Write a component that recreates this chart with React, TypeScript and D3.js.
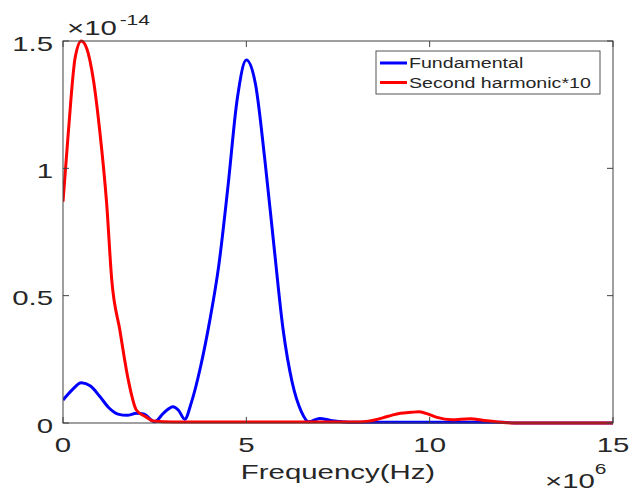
import React from "react";
import * as d3 from "d3";

// Frequency in units of 1e6 Hz, amplitude in units of 1e-14
const fundamentalFreq = [0, 0.25, 0.5, 0.75, 1.0, 1.25, 1.5, 1.75, 2.0, 2.2, 2.5, 2.75, 3.0, 3.15, 3.32, 3.5, 3.75, 4.0, 4.25, 4.5, 4.75, 5.0, 5.25, 5.5, 5.75, 6.0, 6.25, 6.5, 6.7, 7.0, 7.3, 7.6, 8.0, 10.0, 12.0, 12.3, 15.0];
const fundamentalAmp = [0.09, 0.13, 0.158, 0.145, 0.105, 0.06, 0.035, 0.03, 0.038, 0.035, 0.005, 0.04, 0.064, 0.05, 0.015, 0.08, 0.22, 0.4, 0.62, 0.93, 1.27, 1.425, 1.33, 1.04, 0.7, 0.37, 0.16, 0.045, 0.005, 0.018, 0.01, 0.005, 0.003, 0.003, 0.003, 0.0, 0.0];

const secondFreq = [0, 0.15, 0.33, 0.5, 0.65, 0.83, 1.0, 1.19, 1.33, 1.55, 1.78, 2.0, 2.25, 2.46, 3.0, 8.0, 8.2, 8.5, 8.72, 9.0, 9.2, 9.5, 9.7, 9.9, 10.2, 10.6, 11.1, 11.5, 12.0, 12.3, 15.0];
const secondAmp = [0.869, 1.15, 1.433, 1.5, 1.47, 1.347, 1.15, 0.863, 0.561, 0.365, 0.169, 0.051, 0.025, 0.008, 0.004, 0.004, 0.005, 0.012, 0.02, 0.032, 0.038, 0.042, 0.044, 0.038, 0.022, 0.013, 0.017, 0.01, 0.002, 0.0, 0.0];

const xTicks = [0, 5, 10, 15];
const yTicks = [0, 0.5, 1, 1.5];
const yTickLabels = ["0", "0.5", "1", "1.5"];
const seriesNames = ["Fundamental", "Second harmonic*10"];
const seriesColors = ["#0000ff", "#ff0000"];

const W = 632, H = 497;
const L = 63, R = 613, T = 41, B = 423;
const SX = 1.4;
const FONT = "'Liberation Sans', Arial, sans-serif";
const AX = "#404040";
const TXT = "#262626";

export default function App() {
  const x = d3.scaleLinear().domain([0, 15]).range([L, R]);
  const y = d3.scaleLinear().domain([0, 1.5]).range([B, T]);
  const line = d3
    .line<[number, number]>()
    .x((d) => x(d[0]))
    .y((d) => y(d[1]))
    .curve(d3.curveMonotoneX);

  const fund: [number, number][] = fundamentalFreq.map((f, i) => [f, fundamentalAmp[i]]);
  const sec: [number, number][] = secondFreq.map((f, i) => [f, secondAmp[i]]);

  const tickLen = 6;

  return (
    <svg width={W} height={H} style={{ position: "absolute", left: 0, top: 0, background: "#fff" }} fontFamily={FONT}>
      <defs>
        <clipPath id="plotclip">
          <rect x={L} y={T - 2} width={R - L} height={B - T + 4} />
        </clipPath>
      </defs>
      <rect x={0} y={0} width={W} height={H} fill="#fff" />

      <g clipPath="url(#plotclip)">
        <path d={line(fund) || ""} fill="none" stroke={seriesColors[0]} strokeWidth={3} strokeLinejoin="round" />
        <path d={line(sec) || ""} fill="none" stroke={seriesColors[1]} strokeWidth={3} strokeLinejoin="round" />
      </g>

      {/* box */}
      <rect x={L} y={T} width={R - L} height={B - T} fill="none" stroke={AX} strokeWidth={1} />

      {/* ticks */}
      {xTicks.map((t) => (
        <g key={"xt" + t}>
          <line x1={x(t)} x2={x(t)} y1={B} y2={B - tickLen} stroke={AX} />
          <line x1={x(t)} x2={x(t)} y1={T} y2={T + tickLen} stroke={AX} />
          <text
            transform={`translate(${x(t)},452) scale(${SX},1)`}
            textAnchor="middle"
            fontSize={21}
            fill={TXT}
          >
            {t}
          </text>
        </g>
      ))}
      {yTicks.map((t, i) => (
        <g key={"yt" + t}>
          <line x1={L} x2={L + tickLen} y1={y(t)} y2={y(t)} stroke={AX} />
          <line x1={R} x2={R - tickLen} y1={y(t)} y2={y(t)} stroke={AX} />
          <text
            transform={`translate(53,${y(t) + 9.5}) scale(${SX},1)`}
            textAnchor="end"
            fontSize={21}
            fill={TXT}
          >
            {yTickLabels[i]}
          </text>
        </g>
      ))}

      {/* exponent labels */}
      <text transform={`translate(67,35) scale(${SX},1)`} fontSize={21} fill={TXT}>
        ×10
        <tspan dx={2} dy={-10} fontSize={15}>
          -14
        </tspan>
      </text>
      <text transform={`translate(545,488) scale(${SX},1)`} fontSize={21} fill={TXT}>
        ×10
        <tspan dy={-14} fontSize={15}>
          6
        </tspan>
      </text>

      {/* x axis label */}
      <text transform={`translate(${(L + R) / 2},479) scale(${SX},1)`} textAnchor="middle" fontSize={21} fill={TXT}>
        Frequency(Hz)
      </text>

      {/* legend */}
      <rect x={376} y={51} width={224} height={43} fill="#fff" stroke="#555" strokeWidth={1} />
      {seriesNames.map((name, i) => (
        <g key={name}>
          <line x1={380} x2={407} y1={63 + i * 19.5} y2={63 + i * 19.5} stroke={seriesColors[i]} strokeWidth={3} />
          <text transform={`translate(409,${67.5 + i * 20}) scale(${SX},1)`} fontSize={14} fill={TXT}>
            {name}
          </text>
        </g>
      ))}
    </svg>
  );
}
